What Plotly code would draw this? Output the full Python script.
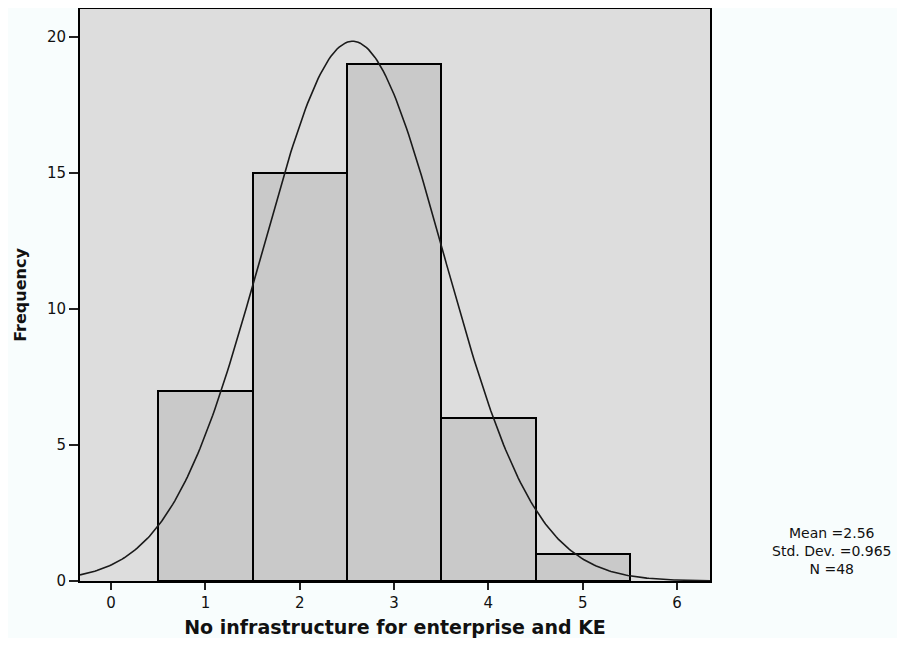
import numpy as np
import plotly.graph_objects as go

# Data
bin_centers = [1, 2, 3, 4, 5]
frequencies = [7, 15, 19, 6, 1]
mean_val = 2.56
std_val = 0.965
n_val = 48
bin_width = 1.0
x_tick_vals = [0, 1, 2, 3, 4, 5, 6]
y_tick_vals = [0, 5, 10, 15, 20]
stats_lines = [f"Mean ={mean_val}", f"Std. Dev. ={std_val}", f"N ={n_val}"]

x_lo, x_hi = -0.33, 6.35
xs = np.linspace(x_lo, x_hi, 300)
ys = n_val * bin_width / (std_val * np.sqrt(2 * np.pi)) * np.exp(-0.5 * ((xs - mean_val) / std_val) ** 2)

fig = go.Figure()
fig.add_trace(go.Bar(
    x=bin_centers, y=frequencies, width=bin_width,
    marker=dict(color="#c9c9c9", line=dict(color="black", width=2)),
    showlegend=False, hoverinfo="x+y",
))
fig.add_trace(go.Scatter(
    x=xs, y=ys, mode="lines", line=dict(color="#1a1a1a", width=1.6),
    showlegend=False, hoverinfo="skip",
))

FONT = "DejaVu Sans, Arial, sans-serif"
W, H = 889, 630
L, R, T, B = 72, 187, 1, 57

annotations = [
    dict(xref="paper", yref="paper", x=1.193, y=0.0524, xanchor="center", yanchor="middle",
         text="<br>".join(stats_lines), showarrow=False, align="center",
         font=dict(size=14, color="#111", family=FONT))
]

fig.update_layout(
    width=W, height=H,
    margin=dict(l=L, r=R, t=T, b=B, autoexpand=False),
    paper_bgcolor="#f8fdfd",
    plot_bgcolor="#dddddd",
    bargap=0,
    font=dict(family=FONT, color="#111"),
    xaxis=dict(
        range=[x_lo, x_hi], tickvals=x_tick_vals, ticks="outside", ticklen=7,
        tickwidth=2, tickcolor="#222", showgrid=False, zeroline=False,
        showline=True, linecolor="black", linewidth=2, mirror=True,
        tickfont=dict(size=15), automargin=True,
        title=dict(text="<b>No infrastructure for enterprise and KE</b>", font=dict(size=19), standoff=14),
    ),
    yaxis=dict(
        range=[0, 21.03], tickvals=y_tick_vals, ticks="outside", ticklen=9,
        tickwidth=2, tickcolor="#222", showgrid=False, zeroline=False,
        showline=True, linecolor="black", linewidth=2, mirror=True,
        tickfont=dict(size=15), automargin=True,
        title=dict(text="<b>Frequency</b>", font=dict(size=16), standoff=16),
    ),
    annotations=annotations,
)

fig.write_html("out.html")
